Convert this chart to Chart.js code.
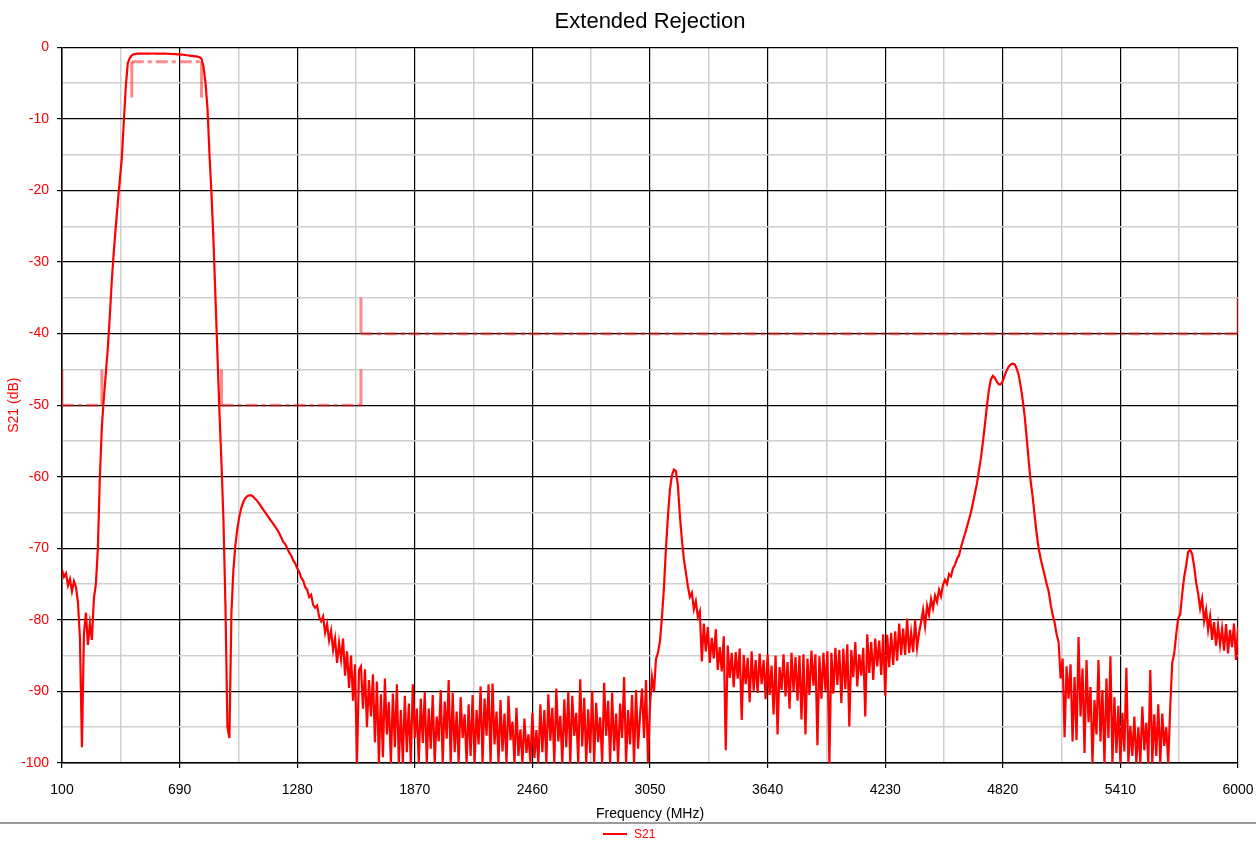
<!DOCTYPE html>
<html lang="en">
<head>
<meta charset="utf-8">
<title>Extended Rejection</title>
<script src="https://cdn.jsdelivr.net/npm/chart.js@4.4.1/dist/chart.umd.min.js"></script>
<style>
  html, body { margin: 0; padding: 0; background: #fff; }
  #contenedor { position: relative; width: 1256px; height: 841px; }
</style>
</head>
<body>
<div id="contenedor"><canvas id="grafico"></canvas></div>
<script>
// Barrido de frecuencia: primer punto y paso entre puntos (MHz)
const inicioFrecuencia = 100
const pasoFrecuencia = 10

// S21 (dB), un valor cada 10 MHz desde 100 hasta 6000
const s21 = [
  -73.0,-74.0,-73.5,-75.2,-74.3,-76.0,-74.6,-75.4,-77.5,-82.5,   // 100
  -97.8,-82.0,-79.0,-83.5,-80.5,-82.8,-77.0,-75.0,-70.0,-60.0,   // 200
  -53.0,-49.0,-45.5,-42.0,-37.5,-32.5,-28.5,-25.0,-21.7,-18.5,   // 300
  -15.5,-10.5,-5.5,-2.2,-1.5,-1.1,-0.95,-0.9,-0.88,-0.87,        // 400
  -0.88,-0.87,-0.86,-0.87,-0.86,-0.85,-0.85,-0.86,-0.86,-0.87,   // 500
  -0.87,-0.88,-0.88,-0.89,-0.9,-0.92,-0.93,-0.95,-0.97,-0.98,    // 600
  -1.0,-1.03,-1.07,-1.1,-1.14,-1.18,-1.22,-1.26,-1.3,-1.38,      // 700
  -1.6,-2.7,-5.0,-8.5,-15.0,-20.5,-27.0,-35.0,-43.0,-51.0,       // 800
  -58.0,-66.0,-78.0,-95.0,-96.5,-79.0,-73.0,-69.5,-67.2,-65.5,   // 900
  -64.3,-63.5,-63.0,-62.7,-62.6,-62.6,-62.8,-63.1,-63.4,-63.8,   // 1000
  -64.2,-64.6,-65.0,-65.4,-65.8,-66.2,-66.6,-67.0,-67.4,-67.9,   // 1100
  -68.5,-69.1,-69.4,-70.0,-70.6,-71.0,-71.7,-72.1,-72.8,-73.3,   // 1200
  -74.1,-74.5,-75.4,-75.8,-76.8,-76.5,-77.9,-78.3,-78.0,-79.6,   // 1300
  -80.2,-79.5,-81.8,-80.6,-82.9,-81.5,-84.2,-82.6,-86.0,-83.2,   // 1400
  -85.5,-82.6,-87.8,-84.4,-89.5,-85.0,-91.3,-86.2,-100,-87.0,    // 1500
  -86.5,-92.4,-86.9,-95.0,-88.4,-93.5,-87.6,-97.1,-88.6,-100,    // 1600
  -90.4,-99.2,-88.2,-96.0,-91.5,-100,-90.3,-97.8,-89.0,-100,     // 1700
  -92.6,-100,-90.6,-98.5,-91.7,-100,-89.0,-96.5,-92.4,-100,      // 1800
  -91.0,-97.2,-90.1,-100,-92.4,-98.0,-90.5,-100,-93.5,-97.0,     // 1900
  -89.8,-100,-91.4,-96.6,-88.4,-100,-90.2,-98.5,-92.8,-100,      // 2000
  -90.8,-96.5,-93.2,-100,-91.8,-99.0,-90.5,-100,-92.6,-97.4,     // 2100
  -89.3,-100,-91.0,-96.2,-89.0,-100,-88.9,-97.4,-92.8,-100,      // 2200
  -91.2,-98.4,-93.1,-100,-90.6,-96.8,-94.2,-100,-92.3,-99.0,     // 2300
  -95.3,-100,-93.8,-98.6,-96.0,-100,-93.0,-99.3,-95.4,-100,      // 2400
  -91.8,-98.5,-92.6,-100,-90.4,-96.9,-92.3,-100,-89.6,-97.0,     // 2500
  -93.4,-100,-91.1,-97.8,-90.0,-100,-90.6,-96.2,-93.0,-100,      // 2600
  -88.3,-97.7,-90.9,-100,-92.5,-98.6,-89.9,-100,-91.6,-97.1,     // 2700
  -93.6,-100,-88.8,-96.2,-91.3,-100,-90.2,-98.3,-93.1,-100,      // 2800
  -91.7,-96.5,-88.0,-100,-92.6,-97.4,-90.5,-100,-89.8,-98.0,     // 2900
  -93.3,-89.6,-96.5,-88.4,-100,-92.0,-88.0,-90.0,-85.5,-84.6,    // 3000
  -83.0,-79.6,-75.5,-70.0,-65.5,-61.8,-59.8,-59.0,-59.2,-61.2,   // 3100
  -65.5,-68.8,-71.5,-73.4,-75.3,-76.8,-76.2,-78.5,-77.4,-79.6,   // 3200
  -78.8,-85.8,-80.5,-84.4,-81.0,-86.0,-82.5,-85.4,-81.3,-87.0,   // 3300
  -83.8,-87.2,-82.3,-98.2,-83.6,-88.1,-84.6,-89.4,-84.5,-88.2,   // 3400
  -84.0,-94.0,-84.9,-89.0,-85.3,-91.5,-84.4,-89.9,-85.6,-90.2,   // 3500
  -84.7,-89.0,-85.6,-91.1,-84.8,-90.5,-86.4,-93.2,-85.0,-96.0,   // 3600
  -86.6,-89.8,-84.8,-90.7,-85.9,-92.4,-84.6,-90.0,-85.2,-91.3,   // 3700
  -85.0,-93.9,-84.8,-96.0,-85.4,-90.5,-84.3,-89.2,-84.8,-97.5,   // 3800
  -85.1,-91.0,-84.6,-89.9,-84.4,-100,-84.6,-90.3,-83.9,-89.1,    // 3900
  -84.2,-91.6,-84.0,-89.7,-83.4,-94.9,-84.2,-88.0,-83.1,-89.3,   // 4000
  -84.8,-87.8,-83.9,-93.5,-82.0,-87.4,-83.1,-88.4,-82.6,-86.5,   // 4100
  -82.9,-87.7,-82.0,-90.6,-82.1,-86.6,-81.8,-86.3,-81.6,-85.7,   // 4200
  -80.5,-84.9,-81.2,-84.9,-79.8,-84.6,-81.8,-84.5,-80.0,-83.9,   // 4300
  -81.8,-80.3,-78.6,-80.9,-78.0,-79.3,-77.1,-78.4,-76.6,-77.5,   // 4400
  -75.8,-76.7,-75.1,-74.4,-75.0,-73.6,-73.9,-72.8,-72.3,-71.5,   // 4500
  -71.0,-69.9,-68.9,-68.0,-67.0,-66.0,-65.0,-63.7,-62.3,-61.0,   // 4600
  -59.2,-57.4,-55.2,-52.8,-50.2,-47.9,-46.4,-45.9,-46.2,-46.7,   // 4700
  -47.1,-47.1,-46.6,-45.8,-45.1,-44.6,-44.3,-44.2,-44.3,-44.9,   // 4800
  -45.8,-47.4,-49.3,-51.6,-54.6,-57.8,-60.7,-62.8,-65.5,-68.0,   // 4900
  -70.0,-71.5,-72.6,-73.8,-75.0,-76.0,-77.8,-79.3,-80.4,-82.0,   // 5000
  -83.1,-88.2,-85.4,-96.4,-86.5,-91.0,-86.2,-97.0,-88.0,-96.8,   // 5100
  -82.4,-93.5,-86.8,-98.6,-85.6,-94.3,-89.4,-100,-91.2,-96.0,    // 5200
  -85.6,-97.0,-89.8,-100,-88.2,-96.5,-85.1,-100,-90.8,-98.6,     // 5300
  -92.0,-100,-93.0,-98.4,-86.7,-100,-94.8,-99.0,-93.5,-100,      // 5400
  -95.0,-100,-92.1,-98.2,-94.4,-100,-87.0,-100,-93.2,-99.0,      // 5500
  -91.8,-100,-93.1,-97.6,-95.0,-100,-92.2,-86.0,-84.7,-82.0,     // 5600
  -79.8,-79.2,-76.4,-74.0,-72.4,-70.5,-70.2,-70.8,-72.5,-74.8,   // 5700
  -76.3,-78.4,-77.0,-80.2,-78.6,-81.4,-79.5,-82.8,-80.3,-83.6,   // 5800
  -80.8,-83.5,-81.2,-84.3,-80.6,-84.7,-81.4,-83.8,-80.5,-85.6,   // 5900
  -81.0                                                          // 6000
]

// Mascara de especificacion (null = corte entre tramos)
const mascaraFrecuencia = [100, 100, 300, 300, null, 450, 450, 800, 800, null, 900, 900, 1600, 1600, null, 1600, 1600, 6000, 6000]
const mascaraNivel      = [-45, -50, -50, -45, null, -7, -2, -2, -7, null, -45, -50, -50, -45, null, -35, -40, -40, -35]

// Etiquetas de los ejes
const etiquetasX = [100, 690, 1280, 1870, 2460, 3050, 3640, 4230, 4820, 5410, 6000]
const etiquetasY = [0, -10, -20, -30, -40, -50, -60, -70, -80, -90, -100]

const fuente = "'Liberation Sans Narrow', 'Liberation Sans', Arial, sans-serif"
const rojo = '#ff0000'

// Separador y leyenda inferior, como en el original
const leyendaInferior = {
    id: 'leyendaInferior',
    afterDraw(chart) {
        const ctx = chart.ctx
        ctx.save()
        ctx.strokeStyle = '#7a7a7a'
        ctx.lineWidth = 1.5
        ctx.beginPath()
        ctx.moveTo(0, 823)
        ctx.lineTo(chart.width, 823)
        ctx.stroke()

        ctx.strokeStyle = rojo
        ctx.lineWidth = 2
        ctx.beginPath()
        ctx.moveTo(603, 834)
        ctx.lineTo(627, 834)
        ctx.stroke()

        ctx.fillStyle = rojo
        ctx.font = '12px ' + fuente
        ctx.textBaseline = 'middle'
        ctx.fillText('S21', 634, 835)
        ctx.restore()
    }
}

function esMayorX(valor) {
    return etiquetasX.includes(Math.round(valor))
}

function esMayorY(valor) {
    return etiquetasY.includes(Math.round(valor))
}

function generarGrafico() {
    let puntosS21 = s21.map((v, i) => ({ x: inicioFrecuencia + i * pasoFrecuencia, y: v }))
    let puntosMascara = mascaraFrecuencia.map((f, i) => ({ x: f, y: mascaraNivel[i] }))

    new Chart(document.getElementById('grafico'), {
        type: 'line',
        data: {
            datasets: [{
                label: 'S21',
                data: puntosS21,
                borderColor: rojo,
                borderWidth: 2.2,
                pointRadius: 0,
                tension: 0,
                order: 0
            }, {
                label: 'Mascara',
                data: puntosMascara,
                borderColor: 'rgba(255, 40, 40, 0.55)',
                borderWidth: 3,
                borderDash: [12, 4, 4, 4],
                pointRadius: 0,
                tension: 0,
                spanGaps: false,
                order: 1,
                segment: {
                    // los tramos verticales van sin trazos
                    borderDash: c => c.p0.parsed.x === c.p1.parsed.x ? [] : undefined
                }
            }]
        },
        options: {
            responsive: true,
            maintainAspectRatio: false,
            animation: false,
            layout: { padding: { left: 0, right: 0, top: 0, bottom: 0 } },
            plugins: {
                legend: { display: false },
                tooltip: { enabled: false },
                title: {
                    display: true,
                    text: 'Extended Rejection',
                    color: '#000',
                    fullSize: false,
                    font: { family: fuente, size: 22, weight: 'normal' },
                    padding: { top: 9, bottom: 12 }
                }
            },
            scales: {
                x: {
                    type: 'linear',
                    min: 100,
                    max: 6000,
                    afterFit: escala => {
                        escala.height = 78
                        escala.paddingLeft = 0
                        escala.paddingRight = 18
                    },
                    border: { color: '#000', width: 1.5 },
                    grid: {
                        color: c => esMayorX(c.tick.value) ? '#000' : '#cfcfcf',
                        lineWidth: c => esMayorX(c.tick.value) ? 1.2 : 1.5,
                        tickColor: c => esMayorX(c.tick.value) ? '#000' : 'rgba(0,0,0,0)',
                        tickLength: 5
                    },
                    ticks: {
                        stepSize: 295,
                        autoSkip: false,
                        maxRotation: 0,
                        padding: 14,
                        color: '#000',
                        font: { family: fuente, size: 14 },
                        callback: v => esMayorX(v) ? String(v) : ''
                    },
                    title: {
                        display: true,
                        text: 'Frequency (MHz)',
                        color: '#000',
                        font: { family: fuente, size: 14 },
                        padding: { top: 0, bottom: 18 }
                    }
                },
                y: {
                    min: -100,
                    max: 0,
                    afterFit: escala => { escala.width = 62 },
                    border: { color: '#000', width: 1.5 },
                    grid: {
                        color: c => esMayorY(c.tick.value) ? '#000' : '#cfcfcf',
                        lineWidth: c => esMayorY(c.tick.value) ? 1.2 : 1.5,
                        tickColor: c => esMayorY(c.tick.value) ? '#000' : 'rgba(0,0,0,0)',
                        tickLength: 5
                    },
                    ticks: {
                        stepSize: 5,
                        autoSkip: false,
                        padding: 8,
                        color: rojo,
                        font: { family: fuente, size: 14 },
                        callback: v => esMayorY(v) ? String(v) : ''
                    },
                    title: {
                        display: true,
                        text: 'S21 (dB)',
                        color: rojo,
                        font: { family: fuente, size: 14 },
                        padding: { top: 6, bottom: 0 }
                    }
                }
            }
        },
        plugins: [leyendaInferior]
    })
}

generarGrafico()
</script>
</body>
</html>
